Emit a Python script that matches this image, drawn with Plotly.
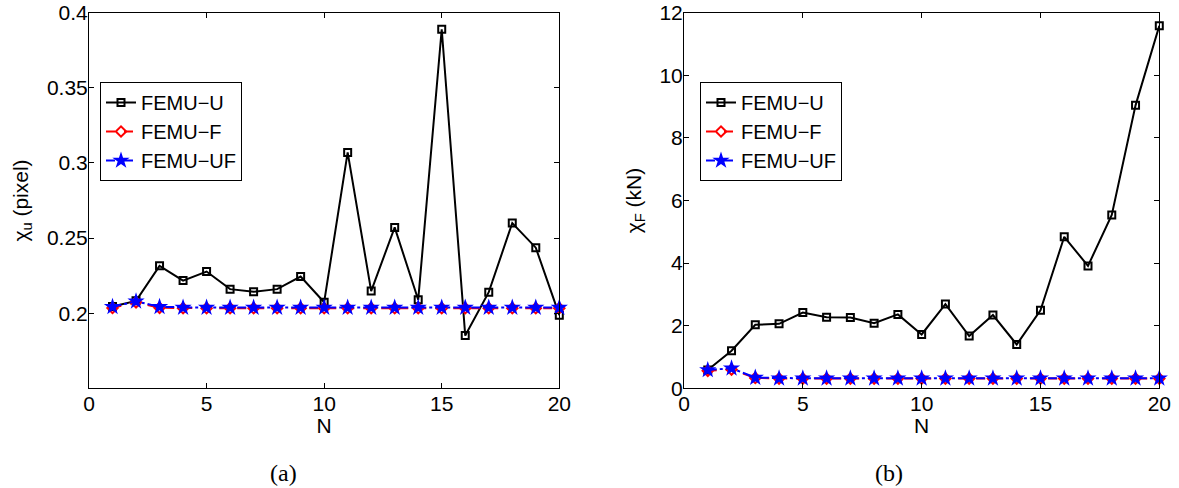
import plotly.graph_objects as go

N = list(range(1, 21))

# (a) chi_u (pixel)
u_femu_u = [0.2044, 0.2082, 0.2315, 0.2217, 0.2277, 0.2160, 0.2142, 0.2160, 0.2244, 0.2073,
            0.3070, 0.2147, 0.2571, 0.2089, 0.3890, 0.1851, 0.2140, 0.2600, 0.2436, 0.1987]
u_femu_f = [0.2035, 0.2072, 0.2036, 0.2033, 0.2033, 0.2033, 0.2033, 0.2033, 0.2033, 0.2033,
            0.2033, 0.2033, 0.2033, 0.2033, 0.2033, 0.2033, 0.2033, 0.2033, 0.2033, 0.2033]
u_femu_uf = [0.2042, 0.2079, 0.2042, 0.2037, 0.2037, 0.2037, 0.2037, 0.2037, 0.2037, 0.2037,
             0.2037, 0.2037, 0.2037, 0.2037, 0.2037, 0.2037, 0.2037, 0.2037, 0.2037, 0.2037]

# (b) chi_F (kN)
f_femu_u = [0.585, 1.20, 2.03, 2.06, 2.42, 2.27, 2.26, 2.08, 2.36, 1.72,
            2.69, 1.67, 2.34, 1.40, 2.49, 4.84, 3.91, 5.54, 9.04, 11.58]
f_femu_f = [0.56, 0.60, 0.33, 0.31, 0.31, 0.31, 0.31, 0.31, 0.31, 0.31,
            0.31, 0.31, 0.31, 0.31, 0.31, 0.31, 0.31, 0.31, 0.31, 0.31]
f_femu_uf = [0.585, 0.64, 0.34, 0.32, 0.32, 0.32, 0.32, 0.32, 0.32, 0.32,
             0.32, 0.32, 0.32, 0.32, 0.32, 0.32, 0.32, 0.32, 0.32, 0.32]

names = ["FEMU\u2212U", "FEMU\u2212F", "FEMU\u2212UF"]
x_ticks = [0, 5, 10, 15, 20]
yu_ticks = [0.2, 0.25, 0.3, 0.35, 0.4]
yf_ticks = [0, 2, 4, 6, 8, 10, 12]

W, H = 1179, 488
FONT = "Liberation Sans, Arial, Helvetica, sans-serif"
FS = 21
LFS = 20

fig = go.Figure()

def add_set(ys, xa, ya, leg):
    styles = [
        dict(line=dict(color="black", width=2, dash="solid"),
             marker=dict(symbol="square-open", size=7, color="black", line=dict(width=2))),
        dict(line=dict(color="red", width=2, dash="dash"),
             marker=dict(symbol="diamond-open", size=8, color="red", line=dict(width=2))),
        dict(line=dict(color="blue", width=2, dash="dashdot"),
             marker=dict(symbol="star", size=13, color="blue", line=dict(width=0))),
    ]
    for y, nm, st in zip(ys, names, styles):
        fig.add_trace(go.Scatter(x=N, y=y, name=nm, mode="lines+markers",
                                 xaxis=xa, yaxis=ya, legend=leg, cliponaxis=False, **st))

add_set([u_femu_u, u_femu_f, u_femu_uf], "x", "y", "legend")
add_set([f_femu_u, f_femu_f, f_femu_uf], "x2", "y2", "legend2")

def px_x(p):
    return p / W

def px_y(p):
    return 1 - p / H

axis_common = dict(showline=True, linecolor="black", linewidth=1, mirror="ticks",
                   ticks="inside", ticklen=5, tickcolor="black", showgrid=False,
                   zeroline=False, automargin=False,
                   tickfont=dict(family=FONT, size=FS, color="black"))

ydom = [px_y(388.3), px_y(12.7)]
fig.update_layout(
    width=W, height=H,
    margin=dict(l=0, r=0, t=0, b=0),
    plot_bgcolor="white", paper_bgcolor="white",
    font=dict(family=FONT, size=FS, color="black"),
    xaxis=dict(domain=[px_x(89), px_x(559.3)], range=[0, 20], tickvals=x_ticks,
               anchor="y", ticklabelstandoff=-4,
               title=dict(text="N", standoff=0, font=dict(size=FS)), **axis_common),
    yaxis=dict(domain=ydom, range=[0.15, 0.4], tickvals=yu_ticks,
               ticktext=["0.2", "0.25", "0.3", "0.35", "0.4"], anchor="x",
               ticklabelstandoff=-4,
               title=dict(text="\u03c7<sub>u</sub> (pixel)", standoff=12, font=dict(size=FS)),
               **axis_common),
    xaxis2=dict(domain=[px_x(684), px_x(1159.3)], range=[0, 20], tickvals=x_ticks,
                anchor="y2", ticklabelstandoff=-4,
                title=dict(text="N", standoff=0, font=dict(size=FS)), **axis_common),
    yaxis2=dict(domain=ydom, range=[0, 12], tickvals=yf_ticks, anchor="x2",
                ticklabelstandoff=-4,
                title=dict(text="\u03c7<sub>F</sub> (kN)", standoff=12, font=dict(size=FS)),
                **axis_common),
    legend=dict(x=px_x(100), y=px_y(82), xanchor="left", yanchor="top",
                bgcolor="white", bordercolor="black", borderwidth=1,
                font=dict(family=FONT, size=LFS, color="black"), tracegroupgap=0),
    legend2=dict(x=px_x(700), y=px_y(82), xanchor="left", yanchor="top",
                 bgcolor="white", bordercolor="black", borderwidth=1,
                 font=dict(family=FONT, size=LFS, color="black"), tracegroupgap=0),
    annotations=[
        dict(text="(a)", x=px_x(283), y=px_y(473), xref="paper", yref="paper",
             xanchor="center", yanchor="middle", showarrow=False,
             font=dict(family="Liberation Serif, Times New Roman, serif", size=24)),
        dict(text="(b)", x=px_x(889), y=px_y(473), xref="paper", yref="paper",
             xanchor="center", yanchor="middle", showarrow=False,
             font=dict(family="Liberation Serif, Times New Roman, serif", size=24)),
    ],
)

# remove the default 8px page margin so the figure sits at the window's top-left corner
fig.write_html("out.html", config={"displayModeBar": False},
               post_script="document.body.style.margin='0';")
